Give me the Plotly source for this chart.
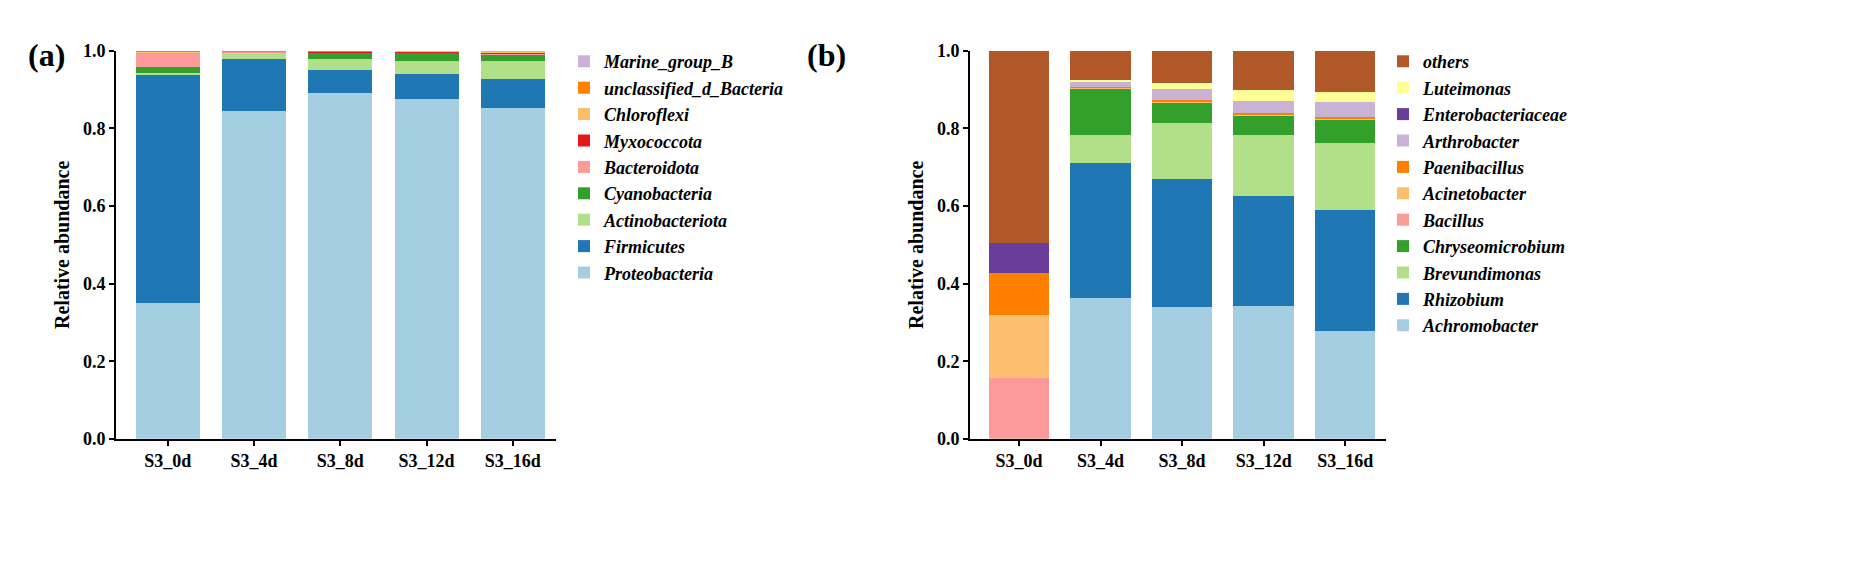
import plotly.graph_objects as go
from plotly.subplots import make_subplots

samples = ["S3_0d", "S3_4d", "S3_8d", "S3_12d", "S3_16d"]

phyla = ["Proteobacteria", "Firmicutes", "Actinobacteriota", "Cyanobacteria", "Bacteroidota",
         "Myxococcota", "Chloroflexi", "unclassified_d_Bacteria", "Marine_group_B"]
phyla_vals = [
    [0.350, 0.845, 0.890, 0.877, 0.853],
    [0.590, 0.135, 0.060, 0.063, 0.075],
    [0.003, 0.015, 0.030, 0.035, 0.047],
    [0.015, 0.002, 0.015, 0.020, 0.015],
    [0.037, 0.001, 0.001, 0.001, 0.001],
    [0.000, 0.000, 0.002, 0.003, 0.006],
    [0.004, 0.001, 0.001, 0.001, 0.001],
    [0.001, 0.001, 0.001, 0.000, 0.001],
    [0.000, 0.000, 0.000, 0.000, 0.001],
]
phyla_colors = ["#a6cee3", "#1f78b4", "#b2df8a", "#33a02c", "#fb9a99",
                "#e31a1c", "#fdbf6f", "#ff7f00", "#cab2d6"]

genera = ["Achromobacter", "Rhizobium", "Brevundimonas", "Chryseomicrobium", "Bacillus",
          "Acinetobacter", "Paenibacillus", "Arthrobacter", "Enterobacteriaceae", "Luteimonas", "others"]
genera_vals = [
    [0.000, 0.363, 0.340, 0.342, 0.277],
    [0.000, 0.348, 0.330, 0.283, 0.313],
    [0.000, 0.072, 0.145, 0.158, 0.173],
    [0.000, 0.120, 0.052, 0.050, 0.060],
    [0.157, 0.001, 0.001, 0.001, 0.001],
    [0.163, 0.001, 0.001, 0.001, 0.001],
    [0.107, 0.001, 0.005, 0.006, 0.004],
    [0.000, 0.015, 0.027, 0.030, 0.040],
    [0.078, 0.000, 0.000, 0.000, 0.000],
    [0.000, 0.004, 0.015, 0.028, 0.025],
    [0.495, 0.075, 0.084, 0.100, 0.105],
]
genera_colors = ["#a6cee3", "#1f78b4", "#b2df8a", "#33a02c", "#fb9a99",
                 "#fdbf6f", "#ff7f00", "#cab2d6", "#6a3d9a", "#ffff99", "#b15928"]

FONT = "Liberation Serif"
fig = make_subplots(rows=1, cols=2)
for name, vals, c in zip(phyla, phyla_vals, phyla_colors):
    fig.add_trace(go.Bar(x=samples, y=vals, name="<b><i>" + name + "</i></b>",
                         marker=dict(color=c, line=dict(width=0)), width=0.74, legend="legend"), row=1, col=1)
for name, vals, c in zip(genera, genera_vals, genera_colors):
    fig.add_trace(go.Bar(x=samples, y=vals, name="<b><i>" + name + "</i></b>",
                         marker=dict(color=c, line=dict(width=0)), width=0.74, legend="legend2"), row=1, col=2)

axis_common = dict(showline=True, linewidth=2, linecolor="black", mirror=False,
                   ticks="outside", tickwidth=2, ticklen=5, tickcolor="black",
                   tickfont=dict(family=FONT, size=18, color="black", weight="bold"))
fig.update_xaxes(**axis_common)
fig.update_yaxes(**axis_common, range=[0, 1], dtick=0.2, tickformat=".1f", showgrid=False,
                 title=dict(text="<b>Relative abundance</b>", font=dict(family=FONT, size=20, color="black"), standoff=8))
fig.update_xaxes(range=[-0.6, 4.5], showgrid=False)
fig.update_layout(
    barmode="stack", width=1863, height=574, plot_bgcolor="white", paper_bgcolor="white",
    margin=dict(l=0, r=0, t=0, b=0),
    xaxis=dict(domain=[108/1863, 548/1863]),
    xaxis2=dict(domain=[962/1863, 1378/1863]),
    yaxis=dict(domain=[138/574, 540/574]),
    yaxis2=dict(domain=[138/574, 540/574]),
    font=dict(family=FONT, color="black"),
    legend=dict(x=556/1863, y=1-26/574, xanchor="left", yanchor="top", traceorder="reversed",
                font=dict(family=FONT, size=18), itemwidth=30, tracegroupgap=0),
    legend2=dict(x=1375/1863, y=1-26/574, xanchor="left", yanchor="top", traceorder="reversed",
                 font=dict(family=FONT, size=18), itemwidth=30, tracegroupgap=0),
    annotations=[
        dict(text="<b>(a)</b>", x=18/1863, y=1-38/574, xref="paper", yref="paper", showarrow=False,
             xanchor="left", yanchor="middle", font=dict(family=FONT, size=32)),
        dict(text="<b>(b)</b>", x=797/1863, y=1-38/574, xref="paper", yref="paper", showarrow=False,
             xanchor="left", yanchor="middle", font=dict(family=FONT, size=32)),
    ],
)
fig.write_html("out.html")
